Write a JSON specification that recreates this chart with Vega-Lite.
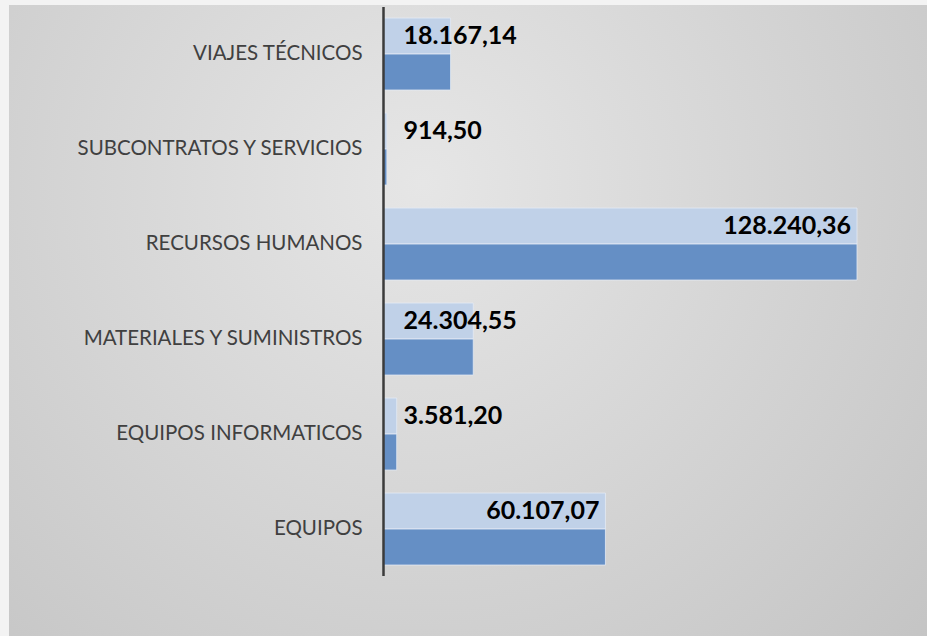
{
  "$schema": "https://vega.github.io/schema/vega-lite/v6.json",
  "width": 918,
  "height": 631,
  "autosize": {"type": "none"},
  "padding": {"left": 9, "top": 5, "right": 0, "bottom": 0},
  "background": "#f3f3f3",
  "config": {
    "view": {"stroke": null},
    "locale": {"number": {"decimal": ",", "thousands": ".", "grouping": [3], "currency": ["", " €"]}}
  },
  "data": {
    "values": [
      {"categoria": "VIAJES TÉCNICOS", "serie": "Serie1", "valor": 18167.14},
      {"categoria": "VIAJES TÉCNICOS", "serie": "Serie2", "valor": 18167.14},
      {"categoria": "SUBCONTRATOS Y SERVICIOS", "serie": "Serie1", "valor": 914.50},
      {"categoria": "SUBCONTRATOS Y SERVICIOS", "serie": "Serie2", "valor": 914.50},
      {"categoria": "RECURSOS HUMANOS", "serie": "Serie1", "valor": 128240.36},
      {"categoria": "RECURSOS HUMANOS", "serie": "Serie2", "valor": 128240.36},
      {"categoria": "MATERIALES Y SUMINISTROS", "serie": "Serie1", "valor": 24304.55},
      {"categoria": "MATERIALES Y SUMINISTROS", "serie": "Serie2", "valor": 24304.55},
      {"categoria": "EQUIPOS INFORMATICOS", "serie": "Serie1", "valor": 3581.20},
      {"categoria": "EQUIPOS INFORMATICOS", "serie": "Serie2", "valor": 3581.20},
      {"categoria": "EQUIPOS", "serie": "Serie1", "valor": 60107.07},
      {"categoria": "EQUIPOS", "serie": "Serie2", "valor": 60107.07}
    ]
  },
  "layer": [
    {
      "data": {"values": [{}]},
      "mark": {
        "type": "rect",
        "color": {
          "gradient": "radial",
          "x1": 0.45, "y1": 0.35, "x2": 0.45, "y2": 0.35, "r1": 0, "r2": 0.75,
          "stops": [
            {"offset": 0, "color": "#e6e6e6"},
            {"offset": 1, "color": "#c4c4c4"}
          ]
        }
      },
      "encoding": {}
    },
    {
      "mark": {"type": "bar", "stroke": "#e3eaf4", "strokeWidth": 1, "strokeOpacity": 0.8},
      "encoding": {
        "y": {
          "field": "categoria", "type": "nominal",
          "scale": {
            "domain": ["VIAJES TÉCNICOS", "SUBCONTRATOS Y SERVICIOS", "RECURSOS HUMANOS", "MATERIALES Y SUMINISTROS", "EQUIPOS INFORMATICOS", "EQUIPOS"],
            "paddingInner": 0.242, "paddingOuter": 0.442, "align": 0.155
          },
          "axis": {
            "title": null, "ticks": false, "domain": false, "grid": false,
            "labelPadding": -353, "labelAlign": "right", "labelFont": "Lato",
            "labelFontSize": 20.5, "labelColor": "#404040", "labelLimit": 0, "zindex": 1
          }
        },
        "yOffset": {"field": "serie", "type": "nominal", "sort": ["Serie1", "Serie2"], "scale": {"paddingInner": 0, "paddingOuter": 0}},
        "x": {
          "field": "valor", "type": "quantitative",
          "scale": {"domain": [-101426, 147196], "nice": false, "zero": false},
          "axis": null
        },
        "color": {
          "field": "serie", "type": "nominal",
          "scale": {"domain": ["Serie1", "Serie2"], "range": ["#c0d1e8", "#658fc5"]},
          "legend": null
        }
      }
    },
    {
      "data": {"values": [{}]},
      "mark": {"type": "rule", "color": "#3b3b3b", "strokeWidth": 2.5, "yOffset": -47, "y2Offset": 47},
      "encoding": {
        "x": {"datum": 0, "type": "quantitative"},
        "y": {"datum": "VIAJES TÉCNICOS", "type": "nominal"},
        "y2": {"datum": "EQUIPOS"}
      }
    },
    {
      "transform": [{"filter": "datum.serie == 'Serie1' && datum.valor >= 50000"}],
      "mark": {"type": "text", "align": "right", "baseline": "middle", "dx": -6, "font": "Lato", "fontWeight": "bold", "fontSize": 25, "color": "#000000"},
      "encoding": {
        "y": {"field": "categoria", "type": "nominal"},
        "yOffset": {"field": "serie", "type": "nominal", "sort": ["Serie1", "Serie2"]},
        "x": {"field": "valor", "type": "quantitative"},
        "text": {"field": "valor", "type": "quantitative", "format": ",.2f"}
      }
    },
    {
      "transform": [{"filter": "datum.serie == 'Serie1' && datum.valor < 50000"}],
      "mark": {"type": "text", "align": "left", "baseline": "middle", "dx": 20, "font": "Lato", "fontWeight": "bold", "fontSize": 25, "color": "#000000"},
      "encoding": {
        "y": {"field": "categoria", "type": "nominal"},
        "yOffset": {"field": "serie", "type": "nominal", "sort": ["Serie1", "Serie2"]},
        "x": {"datum": 0, "type": "quantitative"},
        "text": {"field": "valor", "type": "quantitative", "format": ",.2f"}
      }
    }
  ]
}
